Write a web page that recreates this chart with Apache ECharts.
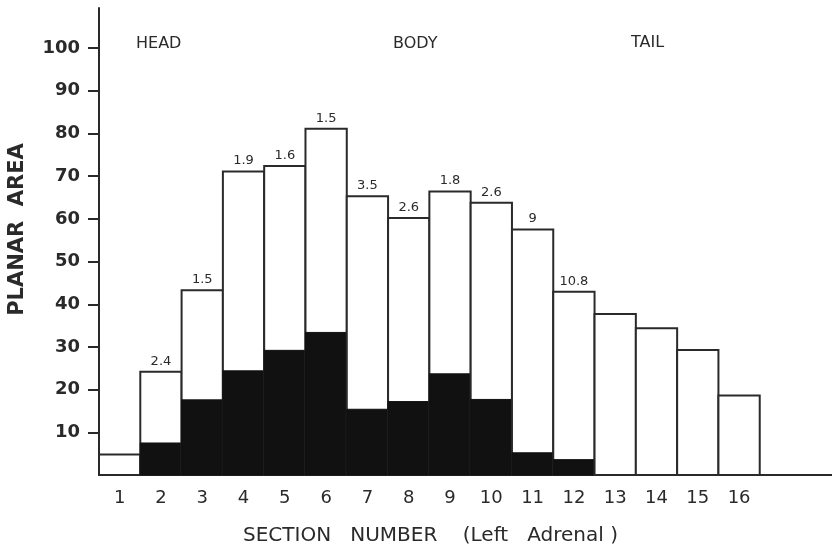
<!DOCTYPE html>
<html>
<head>
<meta charset="utf-8">
<script src="https://cdn.jsdelivr.net/npm/echarts@6/dist/echarts.min.js"></script>
<style>html,body{margin:0;padding:0;background:#fff;}#c{width:832px;height:550px;}</style>
</head>
<body>
<div id="c"></div>
<script>
const sections = [1,2,3,4,5,6,7,8,9,10,11,12,13,14,15,16];
const totalArea = [4.8, 24.2, 43.3, 71.1, 72.4, 81.1, 65.3, 60.2, 66.4, 63.8, 57.5, 42.9, 37.7, 34.4, 29.3, 18.6];
const blackArea = [0, 7.5, 17.6, 24.4, 29.2, 33.4, 15.4, 17.2, 23.7, 17.7, 5.2, 3.6, 0, 0, 0, 0];
const topLabels = ['', '2.4', '1.5', '1.9', '1.6', '1.5', '3.5', '2.6', '1.8', '2.6', '9', '10.8', '', '', '', ''];
const yTicks = [10,20,30,40,50,60,70,80,90,100];
const regionNames = ['HEAD', 'BODY', 'TAIL'];

const ink = '#2a2a2a';
const chart = echarts.init(document.getElementById('c'), null, {renderer: 'canvas'});
const data = sections.map((s, i) => [s, totalArea[i], blackArea[i], i]);

chart.setOption({
  animation: false,
  backgroundColor: '#fff',
  grid: {left: 99, right: 0, top: 8, bottom: 75, containLabel: false, outerBoundsMode: 'none'},
  xAxis: {
    type: 'value', min: 0.5, max: 18.25,
    axisLine: {show: true, lineStyle: {color: ink, width: 2}},
    axisTick: {show: false},
    splitLine: {show: false},
    axisLabel: {customValues: sections, color: ink, fontFamily: 'DejaVu Sans', fontSize: 18, margin: 14},
    name: 'SECTION   NUMBER    (Left   Adrenal )',
    nameLocation: 'middle', nameGap: 51,
    nameTextStyle: {color: ink, fontFamily: 'DejaVu Sans', fontSize: 20, padding: [0, 70, 0, 0]}
  },
  yAxis: {
    type: 'value', min: 0, max: 109.4,
    axisLine: {show: true, lineStyle: {color: ink, width: 2}},
    axisTick: {show: true, customValues: yTicks, length: 11, lineStyle: {color: ink, width: 2}},
    splitLine: {show: false},
    axisLabel: {customValues: yTicks, color: ink, fontFamily: 'DejaVu Sans', fontWeight: 'bold', fontSize: 18, margin: 19},
    name: 'PLANAR  AREA',
    nameLocation: 'middle', nameGap: 71, nameRotate: 90,
    nameTextStyle: {color: ink, fontFamily: 'DejaVu Sans', fontWeight: 'bold', fontSize: 21, padding: [0, 0, 0, 24]}
  },
  graphic: [
    {type: 'text', left: 136, top: 36, style: {text: regionNames[0], fontFamily: 'DejaVu Sans', fontSize: 16, fill: ink}},
    {type: 'text', left: 393, top: 36, style: {text: regionNames[1], fontFamily: 'DejaVu Sans', fontSize: 16, fill: ink}},
    {type: 'text', left: 631, top: 35, style: {text: regionNames[2], fontFamily: 'DejaVu Sans', fontSize: 16, fill: ink}}
  ],
  series: [{
    type: 'custom',
    data: data,
    clip: false,
    renderItem: function (params, api) {
      const x = api.value(0), tot = api.value(1), blk = api.value(2), idx = api.value(3);
      const b0 = api.coord([x - 0.5, 0]);
      const t1 = api.coord([x + 0.5, tot]);
      const d1 = api.coord([x + 0.5, blk]);
      const children = [
        {type: 'rect', shape: {x: b0[0], y: t1[1], width: t1[0] - b0[0], height: b0[1] - t1[1]},
         style: {fill: '#fff', stroke: ink, lineWidth: 2}}
      ];
      if (blk > 0) {
        children.push({type: 'rect', shape: {x: b0[0], y: d1[1], width: d1[0] - b0[0], height: b0[1] - d1[1]},
          style: {fill: '#111', stroke: '#111', lineWidth: 1}});
      }
      const lab = topLabels[idx];
      if (lab) {
        children.push({type: 'text', style: {text: lab, x: (b0[0] + t1[0]) / 2, y: t1[1] - 4,
          align: 'center', verticalAlign: 'bottom', fontFamily: 'DejaVu Sans', fontSize: 13, fill: ink}});
      }
      return {type: 'group', children: children};
    }
  }]
});
</script>
</body>
</html>
